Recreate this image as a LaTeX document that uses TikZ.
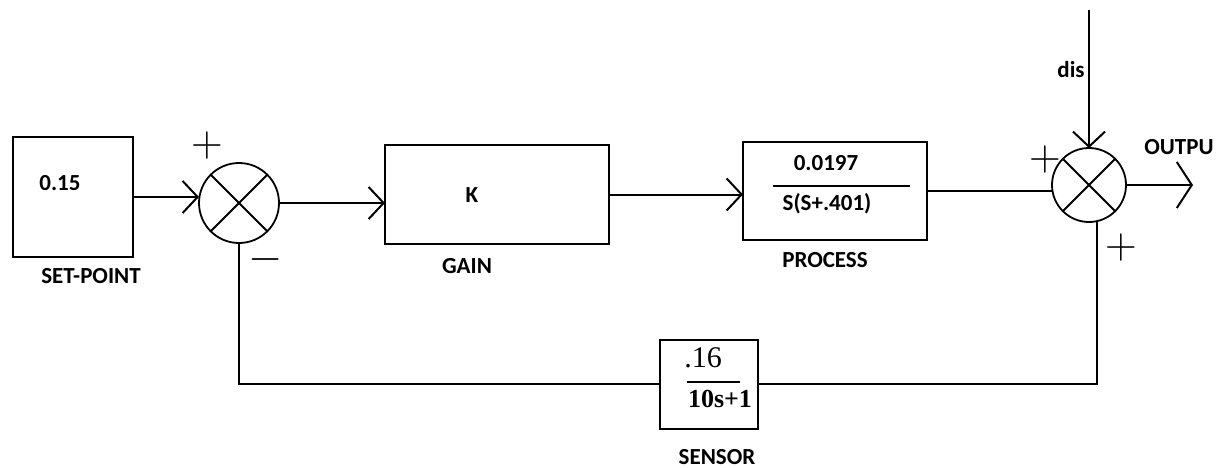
\RequirePackage{fix-cm}
\documentclass[tikz,border=0pt]{standalone}
\usepackage{fontspec}
\usetikzlibrary{arrows.meta,positioning}
\newfontfamily\lblfont{Carlito}
\newfontfamily\fracfont{Liberation Serif}
\tikzset{
  blk/.style={rectangle, draw=black, line width=2pt, outer sep=0pt, inner sep=0pt},
  sumj/.style={circle, draw=black, line width=1.8pt, outer sep=0pt, inner sep=0pt, minimum size=#1},
  lbl/.style={font=\fontsize{23}{26}\selectfont\lblfont\bfseries, inner sep=0pt},
  sgn/.style={font=\fontsize{44}{44}\selectfont, inner sep=0pt},
  wire/.style={line width=2pt},
  sig/.style={wire, -{Straight Barb[length=15pt, width=32pt]}}
}
\begin{document}
\begin{tikzpicture}[x=1pt, y=-1pt]
  \useasboundingbox (0,0) rectangle (1220,468);
  % blocks
  \node[blk, minimum width=120pt, minimum height=120pt] (sp) at (73,197) {};
  \node[sumj=80pt] (s1) at (239,203) {};
  \node[blk, minimum width=224pt, minimum height=99pt] (gain) at (497,194.5) {};
  \node[blk, minimum width=184pt, minimum height=98pt] (pr) at (835,191) {};
  \node[sumj=74pt] (s2) at (1089,185) {};
  \node[blk, minimum width=98pt, minimum height=89pt] (sen) at (709,384) {};
  \foreach \s in {s1,s2}
    \draw[line width=1.8pt] (\s.45) -- (\s.225) (\s.135) -- (\s.315);
  % texts
  \node[lbl] (spval) at (60,183) {0.15};
  \node[lbl] (splbl) at (91,276) {SET-POINT};
  \node[lbl] (k) at (472,195) {K};
  \node[lbl] (gainlbl) at (467,266) {GAIN};
  \node[lbl] (num) at (826,163) {0.0197};
  \node[lbl] (den) at (827,204) {S(S+.401)};
  \node[lbl] (prlbl) at (825,260) {PROCESS};
  \node[lbl] (dislbl) at (1071,70) {dis};
  \node[lbl] (outlbl) at (1179,147) {OUTPU};
  \node[lbl] (senlbl) at (717,457) {SENSOR};
  \node[font=\fontsize{30}{32}\selectfont\fracfont, inner sep=0pt] (snum) at (703,358) {.16};
  \node[font=\fontsize{26}{28}\selectfont\fracfont\bfseries, inner sep=0pt] (sden) at (720,399) {10s+1};
  % fraction bars
  \draw[wire] (773,186) -- (910,186);
  \draw[wire] (687,382) -- (740,382);
  % signs
  \node[sgn] (p1) at (207,146) {$+$};
  \node[sgn] (m1) at (266,259) {$-$};
  \node[sgn] (p2) at (1045,160) {$+$};
  \node[sgn] (p3) at (1121,247) {$+$};
  % forward path
  \draw[sig] (sp.east) -- (sp.east -| s1.west);
  \draw[sig] (s1.east) -- (s1.east -| gain.west);
  \draw[sig] (gain.east) -- (gain.east -| pr.west);
  \draw[wire] (pr.east) -- (pr.east -| s2.west);
  \coordinate (y) at (1193,185);
  \draw[wire, -{Straight Barb[length=15pt, width=46pt]}] (s2.east) -- (y);
  \coordinate (d) at (1089,10);
  \draw[sig] (d) -- (s2.north);
  % feedback
  \draw[wire] (s2.-78) -- (s2.-78 |- sen.east) -- (sen.east);
  \draw[wire] (sen.west) -- (s1.south |- sen.west) -- (s1.south);
\end{tikzpicture}
\end{document}
